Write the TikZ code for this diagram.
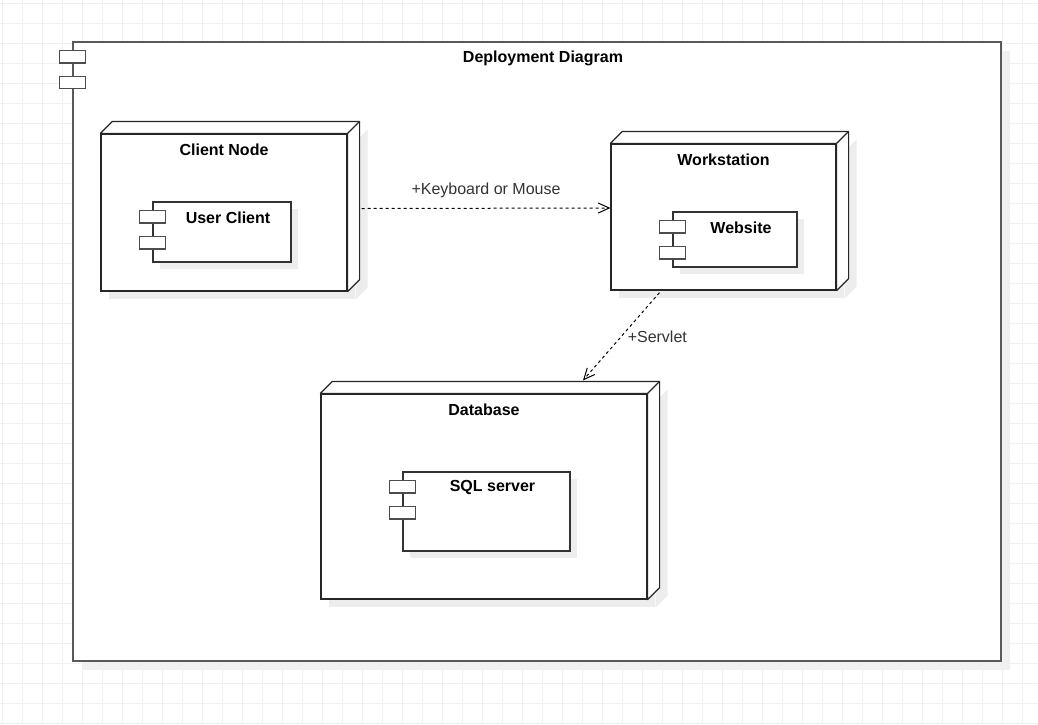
\documentclass[tikz,border=0pt]{standalone}
\usepackage{fontspec}
\setmainfont{Liberation Sans}
\usepackage{tikz}
\usetikzlibrary{positioning, calc, arrows.meta, shadows}

\begin{document}
\begin{tikzpicture}[x=1pt, y=-1pt,
                        font=\fontsize{16}{19}\selectfont,
                        gridline/.style={draw=black!6, line width=0.8pt},
                        framebox/.style={rectangle, draw=black!65, fill=white, line width=1.6pt, inner sep=0,
                                         drop shadow={shadow xshift=9pt, shadow yshift=-9pt, fill=black!6, opacity=1}},
                        nodebox/.style={rectangle, draw=black!85, fill=white, line width=1.2pt, inner sep=0,
                                        drop shadow={shadow xshift=8pt, shadow yshift=-8pt, fill=black!7, opacity=1}},
                        compbox/.style={rectangle, draw=black!80, fill=white, line width=1.2pt, inner sep=0,
                                        drop shadow={shadow xshift=7pt, shadow yshift=-7pt, fill=black!7, opacity=1}},
                        face/.style={draw=black!85, fill=white, line width=1.2pt, line join=round},
                        sideshade/.style={fill=black!7},
                        port/.style={rectangle, draw=black!70, fill=white, line width=1.3pt, minimum width=26pt, minimum height=12.5pt, inner sep=0},
                        title/.style={font=\fontsize{16}{19}\selectfont\bfseries, inner sep=0},
                        deplabel/.style={text=black!80, inner sep=0},
                        dep/.style={draw=black, line width=1pt, dash pattern=on 3pt off 3pt, -{Straight Barb[length=11pt, width=10pt]}},
                        ]
        \useasboundingbox (0,0) rectangle (1038,724);
        \fill[white] (0,0) rectangle (1038,724);
        \foreach \x in {2,22,...,1038} \draw[gridline] (\x,0) -- (\x,724);
        \foreach \y in {3,23,...,724} \draw[gridline] (0,\y) -- (1038,\y);

        %Frame
        \node[framebox, minimum width=928pt, minimum height=619pt] (frame) at (537,351.5) {};
        \node[port] (frameport1) [below=8.5pt of frame.north west] {};
        \node[port] (frameport2) [below=12pt of frameport1] {};
        \node[title] (frametitle) at ([shift={(6,17)}]frame.north) {Deployment Diagram};

        %Nodes
        \node[nodebox, minimum width=246pt, minimum height=157pt] (client)      at (224,212.5) {};
        \node[nodebox, minimum width=225pt, minimum height=146pt] (workstation) at (723.5,217) {};
        \node[nodebox, minimum width=326pt, minimum height=205pt] (database)    at (484,496.5) {};

        \foreach \n in {client, workstation, database} {
            \fill[sideshade] ([shift={(8,8)}]\n.north east) -- ([shift={(20,-4)}]\n.north east)
                -- ([shift={(20,-4)}]\n.south east) -- ([shift={(8,8)}]\n.south east) -- cycle;
            \draw[face] (\n.north west) -- ([shift={(12,-12)}]\n.north west) -- ([shift={(12,-12)}]\n.north east)
                -- ([shift={(12,-12)}]\n.south east) -- (\n.south east) -- (\n.north east) -- cycle;
            \draw[face] (\n.north east) -- ([shift={(12,-12)}]\n.north east);
        }

        \node[title] (clienttitle)      at ([shift={(0,16.5)}]client.north)      {Client Node};
        \node[title] (workstationtitle) at ([shift={(0,16.5)}]workstation.north) {Workstation};
        \node[title] (databasetitle)    at ([shift={(0,16.5)}]database.north)    {Database};

        %Components
        \node[compbox, minimum width=138pt, minimum height=60pt] (userclient) at (222,232)     {};
        \node[compbox, minimum width=124pt, minimum height=55pt] (website)    at (735,239.5)   {};
        \node[compbox, minimum width=167pt, minimum height=79pt] (sqlserver)  at (486.5,511.5) {};

        \node[port] (userclientport1) [below=8.5pt of userclient.north west] {};
        \node[port] (userclientport2) [below=12pt of userclientport1]     {};
        \node[port] (websiteport1)    [below=8.5pt of website.north west]    {};
        \node[port] (websiteport2)    [below=12pt of websiteport1]        {};
        \node[port] (sqlserverport1)  [below=8.5pt of sqlserver.north west]  {};
        \node[port] (sqlserverport2)  [below=12pt of sqlserverport1]      {};

        \node[title] (userclienttitle) at ([shift={(6,16.5)}]userclient.north) {User Client};
        \node[title] (websitetitle)    at ([shift={(6,16.5)}]website.north)    {Website};
        \node[title] (sqlservertitle)  at ([shift={(6,16.5)}]sqlserver.north)  {SQL server};

        %Lines
        \draw[dep] ([shift={(14,-4)}]client.east) -- ([shift={(0,-9)}]workstation.west)
            node[deplabel, midway, above=10pt] {+Keyboard or Mouse};
        \draw[dep] ([shift={(-64,2)}]workstation.south) -- ([shift={(99,-13)}]database.north)
            node[deplabel, midway, right=6pt] {+Servlet};
    \end{tikzpicture}
\end{document}
